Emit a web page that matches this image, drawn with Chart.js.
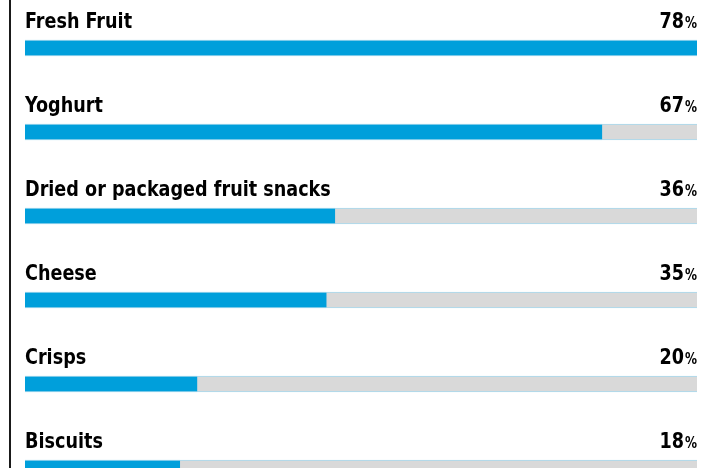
<!DOCTYPE html>
<html>
<head>
    <title>Snacks</title>
    <style>
        html, body { margin: 0; padding: 0; background: #fff; overflow: hidden; }
        #wrap { position: relative; width: 718px; height: 520px; }
    </style>
</head>
<body>
    <div id="wrap"><canvas id="snackChart"></canvas></div>

    <script src="https://cdn.jsdelivr.net/npm/chart.js"></script>
    <script>
        const categories = ['Fresh Fruit', 'Yoghurt', 'Dried or packaged fruit snacks', 'Cheese', 'Crisps', 'Biscuits'];
        const shares = [78, 67, 36, 35, 20, 18];
        const fullScale = 78;

        const FONT = '"Liberation Sans Narrow", "DejaVu Sans Condensed", "Liberation Sans", sans-serif';
        const SQUEEZE = 0.89; // the original face is narrower than what we have

        // labels above each bar + the thin rule on the left
        const textPlugin = {
            id: 'rowText',
            afterDatasetsDraw(chart) {
                const ctx = chart.ctx;
                const yScale = chart.scales.y;
                const area = chart.chartArea;
                ctx.save();
                ctx.strokeStyle = '#1a1a1a';
                ctx.lineWidth = 2;
                ctx.beginPath();
                ctx.moveTo(10, 0);
                ctx.lineTo(10, chart.height);
                ctx.stroke();

                ctx.fillStyle = '#000';
                ctx.textBaseline = 'alphabetic';
                categories.forEach((cat, i) => {
                    const y = yScale.getPixelForValue(i) - 20;

                    ctx.save();
                    ctx.translate(area.left, y);
                    ctx.scale(SQUEEZE, 1);
                    ctx.font = 'bold 22px ' + FONT;
                    ctx.textAlign = 'left';
                    ctx.fillText(cat, 0, 0);
                    ctx.restore();

                    ctx.save();
                    ctx.translate(area.right, y);
                    ctx.scale(SQUEEZE, 1);
                    ctx.textAlign = 'right';
                    ctx.font = 'bold 15px ' + FONT;
                    const pw = ctx.measureText('%').width;
                    ctx.fillText('%', 0, 0);
                    ctx.font = 'bold 22px ' + FONT;
                    ctx.fillText(String(shares[i]), -pw - 1, 0);
                    ctx.restore();
                });
                ctx.restore();
            }
        };

        const ctx = document.getElementById('snackChart').getContext('2d');
        new Chart(ctx, {
            type: 'bar',
            data: {
                labels: categories,
                datasets: [
                    {
                        data: shares,
                        backgroundColor: '#009fdb',
                        borderColor: '#a6d9ee',
                        borderWidth: { top: 1, bottom: 1, left: 0, right: 0 },
                        borderSkipped: false,
                        barThickness: 16,
                        order: 0
                    },
                    {
                        data: shares.map(() => fullScale),
                        backgroundColor: '#d9d9d9',
                        borderColor: '#a6d9ee',
                        borderWidth: { top: 1, bottom: 1, left: 0, right: 0 },
                        borderSkipped: false,
                        barThickness: 16,
                        order: 1
                    }
                ]
            },
            options: {
                indexAxis: 'y',
                responsive: true,
                maintainAspectRatio: false,
                animation: false,
                layout: { padding: { left: 25, right: 21, top: 6, bottom: 10 } },
                plugins: { legend: { display: false }, tooltip: { enabled: false } },
                scales: {
                    x: { display: false, min: 0, max: fullScale, stacked: false },
                    y: { display: false, stacked: true, grid: { display: false } }
                }
            },
            plugins: [textPlugin]
        });
    </script>
</body>
</html>
